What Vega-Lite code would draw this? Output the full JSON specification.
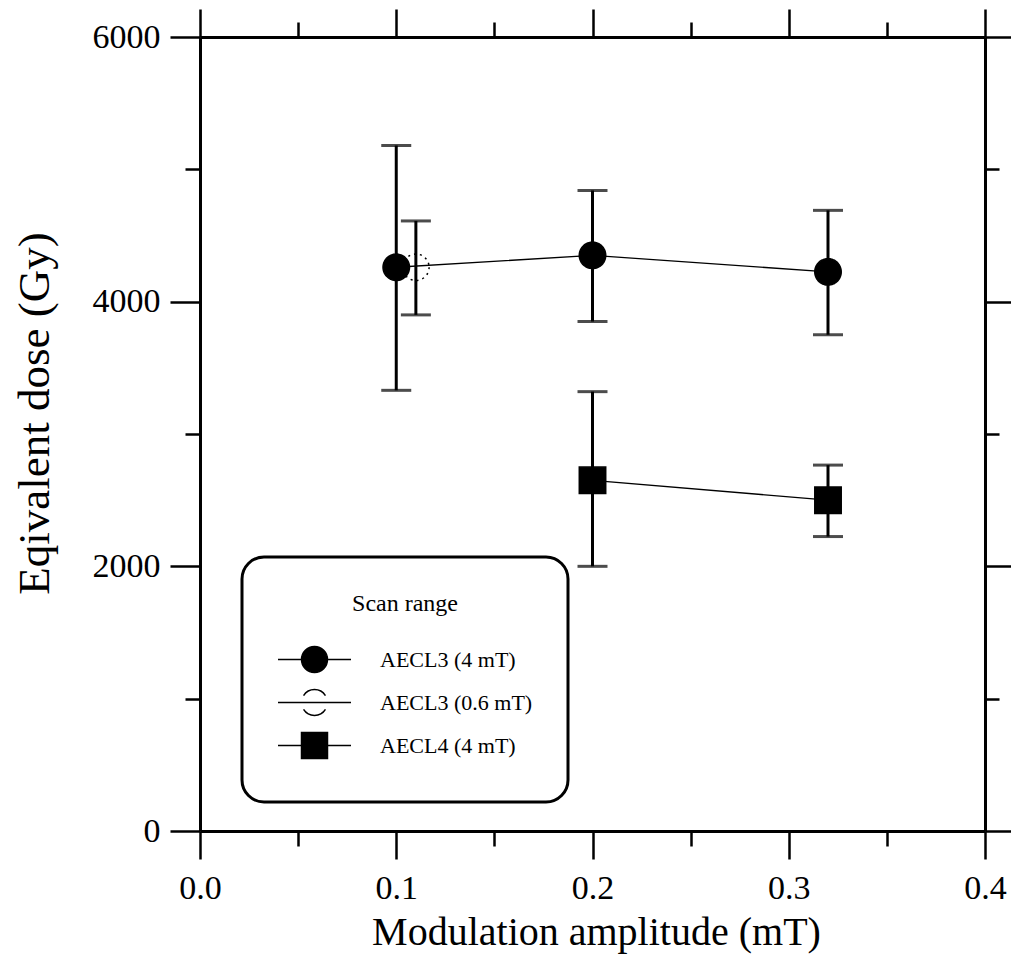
{
  "$schema": "https://vega.github.io/schema/vega-lite/v6.json",
  "width": 785,
  "height": 794,
  "autosize": {"type": "none"},
  "padding": {"left": 200, "top": 37, "right": 26, "bottom": 124},
  "background": "white",
  "config": {
    "view": {"stroke": null},
    "legend": {"strokeWidth": 3},
    "axis": {
      "grid": false,
      "domainColor": "black",
      "domainWidth": 3,
      "tickColor": "black",
      "tickWidth": 2.5,
      "labelFont": "Liberation Serif",
      "labelColor": "black",
      "titleFont": "Liberation Serif",
      "titleColor": "black",
      "titleFontWeight": "normal"
    }
  },
  "data": {
    "values": [
      {"series": "AECL3 (4 mT)", "x": 0.1, "y": 4260, "lo": 3330, "hi": 5180},
      {"series": "AECL3 (4 mT)", "x": 0.2, "y": 4350, "lo": 3850, "hi": 4840},
      {"series": "AECL3 (4 mT)", "x": 0.32, "y": 4225, "lo": 3750, "hi": 4690},
      {"series": "AECL3 (0.6 mT)", "x": 0.11, "y": 4260, "lo": 3900, "hi": 4610},
      {"series": "AECL4 (4 mT)", "x": 0.2, "y": 2650, "lo": 2000, "hi": 3320},
      {"series": "AECL4 (4 mT)", "x": 0.32, "y": 2500, "lo": 2225, "hi": 2765}
    ]
  },
  "resolve": {
    "axis": {"x": "independent", "y": "independent"},
    "scale": {"shape": "independent", "fill": "independent", "stroke": "independent"},
    "legend": {"shape": "independent", "fill": "independent", "stroke": "independent"}
  },
  "layer": [
    {
      "transform": [{"filter": "datum.series !== 'AECL3 (0.6 mT)'"}],
      "mark": {"type": "line", "color": "black", "strokeWidth": 1.3},
      "encoding": {
        "x": {
          "field": "x", "type": "quantitative",
          "scale": {"domain": [0, 0.4], "nice": false, "zero": false},
          "axis": {
            "orient": "bottom",
            "values": [0, 0.1, 0.2, 0.3, 0.4],
            "format": ".1f",
            "tickSize": 28,
            "labelFontSize": 34,
            "labelPadding": 12,
            "labelFlush": false,
            "labelOverlap": false,
            "title": "Modulation amplitude (mT)",
            "titleFontSize": 40,
            "titleBaseline": "alphabetic",
            "titleY": 113,
            "titleX": 396
          }
        },
        "y": {
          "field": "y", "type": "quantitative",
          "scale": {"domain": [0, 6000], "nice": false, "zero": false},
          "axis": {
            "orient": "left",
            "values": [0, 2000, 4000, 6000],
            "format": "d",
            "tickSize": 30,
            "labelFontSize": 34,
            "labelPadding": 10,
            "labelFlush": false,
            "labelOverlap": false,
            "title": "Eqivalent dose (Gy)",
            "titleFontSize": 45,
            "titleX": -143,
            "titleY": 376
          }
        },
        "detail": {"field": "series"}
      }
    },
    {
      "mark": {"type": "errorbar", "color": "black", "thickness": 3, "ticks": {"size": 30, "thickness": 3, "color": "black"}},
      "encoding": {
        "x": {"field": "x", "type": "quantitative", "axis": null},
        "y": {"field": "lo", "type": "quantitative", "axis": null},
        "y2": {"field": "hi"}
      }
    },
    {
      "mark": {"type": "point", "filled": true, "size": 700, "stroke": "black", "strokeWidth": 1.5, "opacity": 1},
      "encoding": {
        "x": {"field": "x", "type": "quantitative", "axis": null},
        "y": {"field": "y", "type": "quantitative", "axis": null},
        "shape": {
          "field": "series", "type": "nominal",
          "scale": {"domain": ["AECL3 (4 mT)", "AECL3 (0.6 mT)", "AECL4 (4 mT)"], "range": ["circle", "circle", "square"]},
          "legend": null
        },
        "fill": {
          "field": "series", "type": "nominal",
          "scale": {"domain": ["AECL3 (4 mT)", "AECL3 (0.6 mT)", "AECL4 (4 mT)"], "range": ["black", "transparent", "black"]},
          "legend": null
        },
        "strokeDash": {
          "field": "series", "type": "nominal",
          "scale": {"domain": ["AECL3 (4 mT)", "AECL3 (0.6 mT)", "AECL4 (4 mT)"], "range": [[1, 0], [2, 4], [1, 0]]},
          "legend": null
        }
      }
    },
    {
      "transform": [{"filter": "false"}],
      "mark": {"type": "point", "filled": true, "strokeWidth": 1.5},
      "encoding": {
        "x": {"field": "x", "type": "quantitative", "axis": null},
        "y": {"field": "y", "type": "quantitative", "axis": null},
        "shape": {
          "field": "series", "type": "nominal",
          "scale": {
            "domain": ["AECL3 (4 mT)", "AECL3 (0.6 mT)", "AECL4 (4 mT)"],
            "range": [
              "M -1 0 L -0.356 0 M 0.356 0 L 1 0 M 0.356 0 A 0.356 0.356 0 1 1 -0.356 0 A 0.356 0.356 0 1 1 0.356 0 Z",
              "M -1 0 L 1 0 M -0.3 -0.19 A 0.356 0.356 0 0 1 0.3 -0.19 M 0.3 0.19 A 0.356 0.356 0 0 1 -0.3 0.19",
              "M -1 0 L -0.356 0 M 0.356 0 L 1 0 M -0.356 -0.356 L 0.356 -0.356 L 0.356 0.356 L -0.356 0.356 Z"
            ]
          },
          "legend": {
            "title": "Scan range",
            "orient": "none",
            "legendX": 42,
            "legendY": 520,
            "padding": 35,
            "strokeColor": "black",
            "cornerRadius": 22,
            "fillColor": "white",
            "titleFont": "Liberation Serif",
            "titleFontSize": 24,
            "titleFontWeight": "normal",
            "titleColor": "black",
            "titleAnchor": "middle",
            "titlePadding": 22,
            "labelFont": "Liberation Serif",
            "labelFontSize": 22,
            "labelColor": "black",
            "labelOffset": 28,
            "symbolSize": 5329,
            "symbolStrokeColor": "black",
            "symbolStrokeWidth": 1.5,
            "symbolOpacity": 1,
            "clipHeight": 43,
            "rowPadding": 0
          }
        },
        "fill": {
          "field": "series", "type": "nominal",
          "scale": {"domain": ["AECL3 (4 mT)", "AECL3 (0.6 mT)", "AECL4 (4 mT)"], "range": ["black", "transparent", "black"]},
          "legend": {"title": "Scan range"}
        },
        "stroke": {
          "field": "series", "type": "nominal",
          "scale": {"domain": ["AECL3 (4 mT)", "AECL3 (0.6 mT)", "AECL4 (4 mT)"], "range": ["black", "black", "black"]},
          "legend": {"title": "Scan range"}
        }
      }
    },
    {
      "mark": {"type": "point", "opacity": 0},
      "encoding": {
        "x": {"field": "x", "type": "quantitative",
          "axis": {"orient": "top", "values": [0, 0.1, 0.2, 0.3, 0.4], "tickSize": 28, "labels": false, "title": null, "domain": true}},
        "y": {"field": "y", "type": "quantitative",
          "axis": {"orient": "right", "values": [0, 2000, 4000, 6000], "tickSize": 26, "labels": false, "title": null, "domain": true}}
      }
    },
    {
      "mark": {"type": "point", "opacity": 0},
      "encoding": {
        "x": {"field": "x", "type": "quantitative",
          "axis": {"orient": "bottom", "values": [0.05, 0.15, 0.25, 0.35], "tickSize": 15, "labels": false, "title": null, "domain": false}},
        "y": {"field": "y", "type": "quantitative",
          "axis": {"orient": "left", "values": [1000, 3000, 5000], "tickSize": 15, "labels": false, "title": null, "domain": false}}
      }
    },
    {
      "mark": {"type": "point", "opacity": 0},
      "encoding": {
        "x": {"field": "x", "type": "quantitative",
          "axis": {"orient": "top", "values": [0.05, 0.15, 0.25, 0.35], "tickSize": 15, "labels": false, "title": null, "domain": false}},
        "y": {"field": "y", "type": "quantitative",
          "axis": {"orient": "right", "values": [1000, 3000, 5000], "tickSize": 14, "labels": false, "title": null, "domain": false}}
      }
    }
  ]
}
